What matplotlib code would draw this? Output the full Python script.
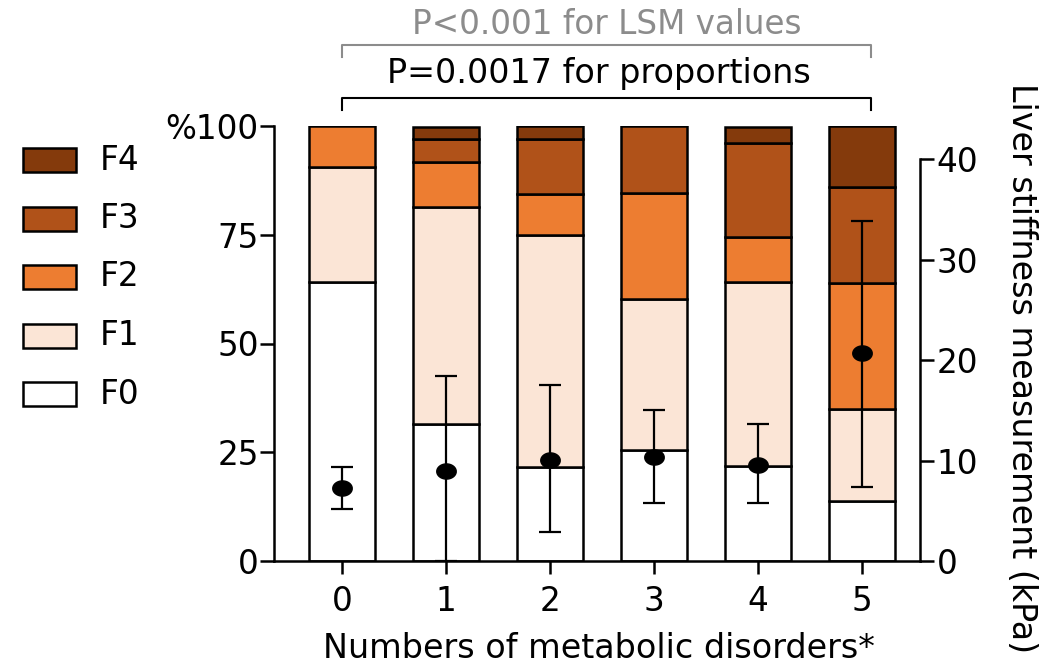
import numpy as np
import matplotlib
matplotlib.use('Agg')
import matplotlib.pyplot as plt
from matplotlib.patches import Rectangle
from matplotlib.path import Path
import matplotlib.transforms as mtransforms

plt.rcParams['font.family'] = ['DejaVu Sans']

# 数据
groups = ['0', '1', '2', '3', '4', '5']
f0 = [64.1, 31.5, 21.7, 25.6, 21.8, 13.9]
f1 = [26.5, 49.9, 53.3, 34.6, 42.3, 21.0]
f2 = [9.4, 10.4, 9.4, 24.3, 10.4, 29.0]
f3 = [0.0, 5.2, 12.6, 15.5, 21.6, 22.1]
f4 = [0.0, 2.8, 3.0, 0.0, 3.7, 14.0]
stages = ['F0', 'F1', 'F2', 'F3', 'F4']
colors = ['#FFFFFF', '#FBE5D6', '#ED7D31', '#B05219', '#843A0C']

lsm_mean = [7.3, 9.0, 10.1, 10.4, 9.6, 20.7]
lsm_upper = [9.4, 18.4, 17.5, 15.0, 13.6, 33.8]
lsm_lower = [5.2, 0.0, 2.9, 5.8, 5.8, 7.4]

left_ticks = [0, 25, 50, 75, 100]
left_labels = ['0', '25', '50', '75', '%100']
right_ticks = [0, 10, 20, 30, 40]

W, H = 1055, 665
fs = 23.5
lw = 1.8

fig = plt.figure(figsize=(W / 100, H / 100), dpi=100)
ax = fig.add_axes([274 / W, 1 - 561 / H, (920 - 274) / W, (561 - 126) / H])

x = np.arange(len(groups))
bottom = np.zeros(len(groups))
for vals, col in zip([f0, f1, f2, f3, f4], colors):
    vals = np.array(vals)
    m = vals > 0
    ax.bar(x[m], vals[m], bottom=bottom[m], width=0.63, color=col,
           edgecolor='black', linewidth=lw, zorder=2)
    bottom += vals

ax.set_xlim(-0.654, 5.558)
ax.set_ylim(0, 100)
ax.set_xticks(x)
ax.set_xticklabels(groups)
ax.set_yticks(left_ticks)
ax.set_yticklabels(left_labels)
for s in ['top', 'right']:
    ax.spines[s].set_visible(False)
for s in ['left', 'bottom']:
    ax.spines[s].set_linewidth(lw)
ax.tick_params(axis='both', labelsize=fs, width=lw, length=10, pad=1)
ax.tick_params(axis='x', length=9, pad=8)

# 右轴：LSM
ax2 = ax.twinx()
ax2.set_ylim(0, 43.3)
ax2.set_yticks(right_ticks)
for s in ['top', 'left', 'bottom']:
    ax2.spines[s].set_visible(False)
ax2.spines['right'].set_linewidth(lw)
ax2.spines['right'].set_bounds(0, 40)
ax2.tick_params(axis='y', labelsize=fs, width=lw, length=10, pad=2)

mean = np.array(lsm_mean)
yerr = [mean - np.array(lsm_lower), np.array(lsm_upper) - mean]
t = np.linspace(0, 2 * np.pi, 60)
ell = Path(np.column_stack([np.cos(t), 0.78 * np.sin(t)]))
ax2.errorbar(x, mean, yerr=yerr, fmt='none', ecolor='black',
             elinewidth=1.6, capsize=8, capthick=1.6, zorder=3)
ax2.plot(x, mean, linestyle='none', marker=ell, markersize=14,
         color='black', zorder=4)

# 图例
for i, (lab, col) in enumerate(zip(stages[::-1], colors[::-1])):
    yc = 160 + 58.5 * i
    fig.patches.append(Rectangle((23 / W, 1 - (yc + 12) / H), 53 / W, 24 / H,
                                 transform=fig.transFigure, facecolor=col,
                                 edgecolor='black', linewidth=lw))
    fig.text(100 / W, 1 - yc / H, lab, fontsize=fs, va='center', ha='left')

# 显著性括号
tr = mtransforms.blended_transform_factory(ax.transData, ax.transAxes)
def bracket(y0, y1, color):
    ax.plot([0, 0, 5.09, 5.09], [y1, y0, y0, y1], color=color, lw=1.5,
            transform=tr, clip_on=False)

bracket(1.186, 1.159, '#8C8C8C')
bracket(1.064, 1.037, 'black')
fig.text(607 / W, 1 - 25 / H, 'P<0.001 for LSM values', fontsize=23.5,
         color='#8C8C8C', ha='center', va='center')
fig.text(599 / W, 1 - 74 / H, 'P=0.0017 for proportions', fontsize=24,
         color='black', ha='center', va='center')

fig.text(599 / W, 1 - 648 / H, 'Numbers of metabolic disorders*', fontsize=24,
         ha='center', va='center')
fig.text(1022 / W, 1 - 368 / H, 'Liver stiffness measurement (kPa)',
         fontsize=24, rotation=270, ha='center', va='center')

fig.savefig('out.png', dpi=100)
